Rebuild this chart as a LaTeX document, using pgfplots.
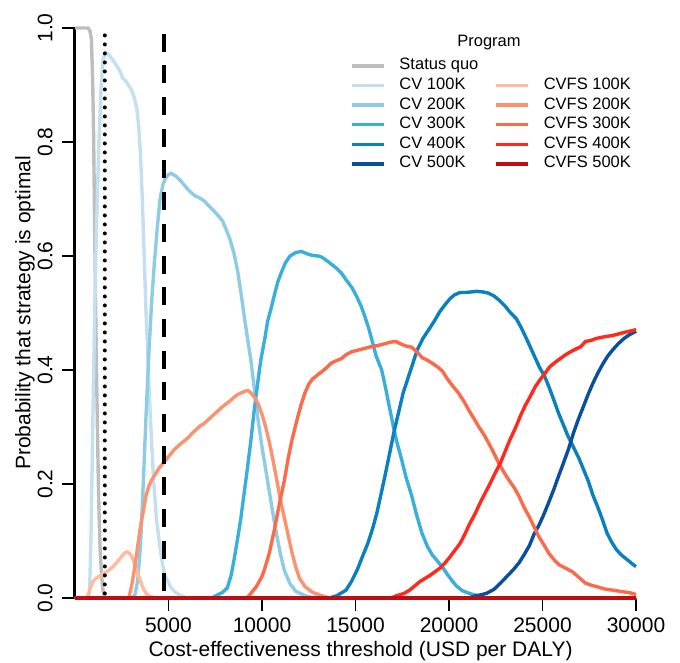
\documentclass[border=0pt]{standalone}
\usepackage{fontspec}
\setmainfont{Liberation Sans}
\usepackage{pgfplots}
\pgfplotsset{compat=1.18}
\definecolor{sq}{HTML}{BEBEBE}
\definecolor{cvA}{HTML}{C3DFF0}
\definecolor{cvB}{HTML}{8ECBE4}
\definecolor{cvC}{HTML}{3BAFDB}
\definecolor{cvD}{HTML}{0A80C0}
\definecolor{cvE}{HTML}{0A4F9E}
\definecolor{fsA}{HTML}{FDBB9F}
\definecolor{fsB}{HTML}{FC9270}
\definecolor{fsC}{HTML}{FB6A4A}
\definecolor{fsD}{HTML}{FF2A1E}
\definecolor{fsE}{HTML}{C00D12}

\begin{document}
\begin{tikzpicture}
\begin{axis}[
  scale only axis, width=561bp, height=570bp,
  xmin=0, xmax=30000, ymin=0, ymax=1,
  axis lines=left, axis line style={-, line width=3bp},
  xtick={5000,10000,15000,20000,25000,30000},
  ytick={0,0.2,0.4,0.6,0.8,1},
  yticklabels={0.0,0.2,0.4,0.6,0.8,1.0},
  scaled x ticks=false,
  xticklabel style={/pgf/number format/.cd, 1000 sep={}, assume math mode=true},
  tick align=outside, major tick length=13bp,
  tick style={line width=1.6bp, black},
  tick label style={font=\fontsize{21bp}{24bp}\selectfont},
  yticklabel style={rotate=90, anchor=south},
  xticklabel shift=3bp, yticklabel shift=6bp,
  label style={font=\fontsize{21bp}{24bp}\selectfont},
  xlabel={Cost-effectiveness threshold (USD per DALY)},
  ylabel={Probability that strategy is optimal},
  xlabel style={at={(axis description cs:0.509,-0.093)}, anchor=center},
  ylabel style={at={(axis description cs:-0.089,0.5)}, anchor=center},
  clip=false,
  every axis plot/.append style={line width=3.4bp},
  legend columns=2,
  legend cell align=left,
  legend image code/.code={\draw (0bp,0bp) -- (32bp,0bp);},
  legend style={at={(rel axis cs:0.49,0.951)}, anchor=north west, draw=none, fill=none,
    inner sep=0pt, font=\fontsize{16.5bp}{19bp}\selectfont,
    nodes={inner ysep=2.3bp, inner xsep=2bp, text height=11.5bp, text depth=3.5bp},
    /tikz/every odd column/.append style={column sep=12bp},
    /tikz/every even column/.append style={column sep=14bp}},
]
% status quo
\addplot[sq, forget plot] coordinates {(0,1) (700,1) (800,0.995) (880,0.98) (950,0.9) (1000,0.8) (1050,0.65) (1100,0.52) (1150,0.4) (1200,0.3) (1250,0.2) (1300,0.13) (1350,0.08) (1420,0.04) (1500,0.012) (1600,0) (30000,0)};
% CV 100K
\addplot[cvA, forget plot] coordinates {(0,0) (700,0) (780,0.01) (850,0.1) (950,0.3) (1050,0.5) (1150,0.65) (1280,0.8) (1400,0.9) (1500,0.945) (1650,0.957) (1750,0.955) (2000,0.945) (2200,0.935) (2400,0.925) (2550,0.912) (2700,0.908) (2850,0.9) (3000,0.893) (3150,0.88) (3300,0.86) (3400,0.83) (3500,0.78) (3600,0.7) (3700,0.6) (3800,0.5) (3900,0.42) (4000,0.34) (4100,0.27) (4200,0.21) (4350,0.14) (4500,0.1) (4650,0.065) (4800,0.04) (4950,0.03) (5100,0.02) (5300,0.012) (5600,0.005) (6000,0) (30000,0)};
% CV 200K
\addplot[cvB, forget plot] coordinates {(0,0) (3000,0) (3200,0.005) (3350,0.03) (3500,0.09) (3650,0.2) (3800,0.32) (3950,0.43) (4100,0.52) (4250,0.59) (4400,0.65) (4550,0.7) (4700,0.725) (4850,0.737) (5000,0.743) (5150,0.745) (5400,0.74) (5650,0.732) (5900,0.722) (6150,0.713) (6400,0.706) (6650,0.702) (6900,0.697) (7150,0.688) (7400,0.68) (7650,0.671) (7900,0.661) (8100,0.645) (8300,0.628) (8500,0.605) (8700,0.573) (8900,0.53) (9050,0.494) (9250,0.45) (9400,0.418) (9600,0.365) (9800,0.31) (10000,0.265) (10200,0.225) (10400,0.185) (10600,0.145) (10800,0.108) (11000,0.075) (11200,0.048) (11500,0.025) (11800,0.012) (12300,0.004) (12800,0) (30000,0)};
% CV 300K
\addplot[cvC, forget plot] coordinates {(0,0) (7300,0) (7600,0.005) (7900,0.01) (8150,0.018) (8350,0.04) (8500,0.066) (8700,0.105) (8870,0.14) (9050,0.185) (9230,0.23) (9400,0.275) (9586,0.33) (9800,0.385) (9950,0.42) (10150,0.455) (10300,0.485) (10500,0.51) (10650,0.53) (10850,0.555) (11021,0.57) (11250,0.588) (11500,0.6) (11800,0.606) (12100,0.608) (12400,0.604) (12700,0.601) (13000,0.6) (13200,0.598) (13500,0.591) (13700,0.586) (14000,0.578) (14250,0.57) (14500,0.558) (14800,0.545) (15050,0.53) (15300,0.512) (15500,0.494) (15700,0.474) (15900,0.45) (16100,0.425) (16400,0.4) (16600,0.37) (16800,0.337) (17000,0.305) (17200,0.275) (17450,0.245) (17700,0.212) (18000,0.18) (18250,0.148) (18550,0.114) (18850,0.09) (19100,0.076) (19400,0.064) (19650,0.054) (19900,0.042) (20150,0.031) (20400,0.021) (20700,0.013) (21000,0.009) (21300,0.006) (21600,0.004) (22000,0) (30000,0)};
% CV 400K
\addplot[cvD, forget plot] coordinates {(0,0) (13600,0) (14000,0.004) (14500,0.014) (14800,0.03) (15100,0.05) (15400,0.075) (15650,0.095) (15900,0.12) (16150,0.15) (16350,0.18) (16550,0.21) (16800,0.25) (17050,0.29) (17300,0.325) (17550,0.36) (17800,0.385) (18050,0.41) (18300,0.435) (18600,0.455) (18900,0.47) (19200,0.485) (19500,0.502) (19750,0.513) (20050,0.525) (20300,0.532) (20600,0.536) (20900,0.536) (21200,0.537) (21500,0.538) (21800,0.537) (22100,0.535) (22400,0.53) (22700,0.522) (23000,0.512) (23300,0.5) (23600,0.49) (23850,0.475) (24100,0.458) (24350,0.44) (24600,0.422) (24850,0.404) (25100,0.39) (25350,0.37) (25600,0.348) (25850,0.325) (26100,0.305) (26350,0.285) (26650,0.265) (26950,0.245) (27200,0.225) (27450,0.205) (27700,0.18) (27950,0.16) (28200,0.138) (28450,0.114) (28700,0.098) (28950,0.085) (29200,0.076) (29500,0.068) (29800,0.06) (30000,0.055)};
% CV 500K
\addplot[cvE, forget plot] coordinates {(0,0) (21000,0) (21500,0.004) (22000,0.008) (22400,0.015) (22750,0.026) (23100,0.038) (23450,0.05) (23750,0.062) (24000,0.075) (24300,0.092) (24550,0.112) (24800,0.127) (25050,0.145) (25300,0.165) (25600,0.19) (25850,0.213) (26100,0.235) (26400,0.262) (26650,0.289) (26900,0.312) (27200,0.337) (27450,0.358) (27700,0.377) (27950,0.394) (28250,0.412) (28500,0.425) (28800,0.437) (29050,0.446) (29350,0.455) (29650,0.462) (30000,0.468)};
% CVFS 100K
\addplot[fsA, forget plot] coordinates {(0,0) (600,0) (700,0.005) (800,0.015) (900,0.025) (1000,0.03) (1150,0.035) (1300,0.038) (1500,0.042) (1700,0.046) (1900,0.051) (2100,0.057) (2300,0.065) (2500,0.073) (2650,0.079) (2800,0.081) (2950,0.077) (3100,0.068) (3250,0.055) (3400,0.04) (3550,0.025) (3700,0.013) (3900,0.005) (4200,0) (30000,0)};
% CVFS 200K
\addplot[fsB, forget plot] coordinates {(0,0) (2800,0) (2900,0.003) (3050,0.025) (3200,0.055) (3350,0.09) (3500,0.125) (3650,0.152) (3800,0.18) (3950,0.196) (4100,0.207) (4250,0.215) (4500,0.228) (4700,0.236) (4900,0.244) (5100,0.252) (5300,0.26) (5500,0.266) (5700,0.272) (5900,0.277) (6100,0.283) (6300,0.29) (6500,0.296) (6700,0.302) (6900,0.306) (7100,0.312) (7300,0.318) (7500,0.324) (7700,0.33) (7900,0.336) (8100,0.341) (8300,0.346) (8500,0.352) (8700,0.357) (8900,0.36) (9100,0.363) (9250,0.364) (9400,0.36) (9600,0.352) (9800,0.34) (10000,0.322) (10200,0.3) (10400,0.272) (10600,0.24) (10800,0.205) (11000,0.17) (11200,0.14) (11400,0.11) (11600,0.08) (11800,0.055) (12000,0.035) (12300,0.02) (12700,0.01) (13200,0.004) (13600,0) (30000,0)};
% CVFS 300K
\addplot[fsC, forget plot] coordinates {(0,0) (9200,0) (9400,0.008) (9700,0.02) (10000,0.038) (10150,0.052) (10400,0.08) (10650,0.118) (10900,0.16) (11200,0.207) (11400,0.245) (11600,0.277) (11900,0.316) (12100,0.34) (12300,0.36) (12500,0.375) (12700,0.384) (12950,0.391) (13200,0.397) (13450,0.404) (13700,0.412) (13950,0.416) (14250,0.42) (14500,0.427) (14800,0.432) (15150,0.435) (15500,0.438) (15850,0.441) (16200,0.443) (16550,0.446) (16900,0.449) (17150,0.45) (17400,0.446) (17700,0.442) (18000,0.44) (18250,0.433) (18550,0.422) (18800,0.418) (19100,0.412) (19400,0.405) (19650,0.398) (19900,0.385) (20150,0.374) (20500,0.36) (20800,0.345) (21050,0.33) (21350,0.314) (21600,0.3) (21900,0.285) (22150,0.27) (22400,0.254) (22700,0.234) (22950,0.22) (23200,0.207) (23500,0.193) (23750,0.178) (24000,0.16) (24300,0.142) (24550,0.125) (24800,0.108) (25100,0.092) (25350,0.078) (25650,0.066) (25900,0.058) (26250,0.052) (26600,0.046) (26950,0.036) (27300,0.026) (27650,0.022) (28000,0.019) (28300,0.016) (28700,0.014) (29300,0.011) (29700,0.009) (30000,0.006)};
% CVFS 400K
\addplot[fsD, forget plot] coordinates {(0,0) (16900,0) (17200,0.004) (17600,0.008) (17900,0.014) (18200,0.022) (18450,0.029) (18700,0.034) (19000,0.04) (19250,0.046) (19500,0.052) (19800,0.062) (20050,0.072) (20300,0.083) (20600,0.096) (20850,0.112) (21100,0.13) (21400,0.148) (21650,0.166) (21900,0.182) (22200,0.201) (22450,0.218) (22750,0.237) (23000,0.257) (23250,0.277) (23550,0.298) (23800,0.318) (24050,0.336) (24350,0.354) (24600,0.37) (24850,0.382) (25150,0.395) (25400,0.406) (25700,0.414) (25950,0.42) (26200,0.426) (26500,0.432) (26800,0.437) (27050,0.441) (27300,0.45) (27600,0.452) (27850,0.455) (28100,0.457) (28450,0.459) (28800,0.461) (29150,0.464) (29500,0.467) (29800,0.469) (30000,0.471)};
% CVFS 500K
\addplot[fsE, forget plot] coordinates {(0,0) (30000,0)};
% thresholds: 1x and 3x GDP per capita
\addplot[black, line width=4bp, line cap=round, dash pattern=on 0bp off 9bp, forget plot] coordinates {(1595,0.008) (1595,1)};
\addplot[black, line width=4bp, dash pattern=on 18bp off 13.7bp, forget plot] coordinates {(4785,0.99) (4785,0.008)};
% legend
\addlegendimage{sq, line width=3.4bp}\addlegendentry{Status quo}
\addlegendimage{empty legend}\addlegendentry{}
\addlegendimage{cvA, line width=3.4bp}\addlegendentry{CV 100K}
\addlegendimage{fsA, line width=3.4bp}\addlegendentry{CVFS 100K}
\addlegendimage{cvB, line width=3.4bp}\addlegendentry{CV 200K}
\addlegendimage{fsB, line width=3.4bp}\addlegendentry{CVFS 200K}
\addlegendimage{cvC, line width=3.4bp}\addlegendentry{CV 300K}
\addlegendimage{fsC, line width=3.4bp}\addlegendentry{CVFS 300K}
\addlegendimage{cvD, line width=3.4bp}\addlegendentry{CV 400K}
\addlegendimage{fsD, line width=3.4bp}\addlegendentry{CVFS 400K}
\addlegendimage{cvE, line width=3.4bp}\addlegendentry{CV 500K}
\addlegendimage{fsE, line width=3.4bp}\addlegendentry{CVFS 500K}
\node[font=\fontsize{16.5bp}{19bp}\selectfont] at (rel axis cs:0.738,0.975) {Program};
\end{axis}
\pgfresetboundingbox
\path (current axis.south west) ++(-75bp,-65bp) rectangle ++(680bp,663bp);
\end{tikzpicture}
\end{document}
